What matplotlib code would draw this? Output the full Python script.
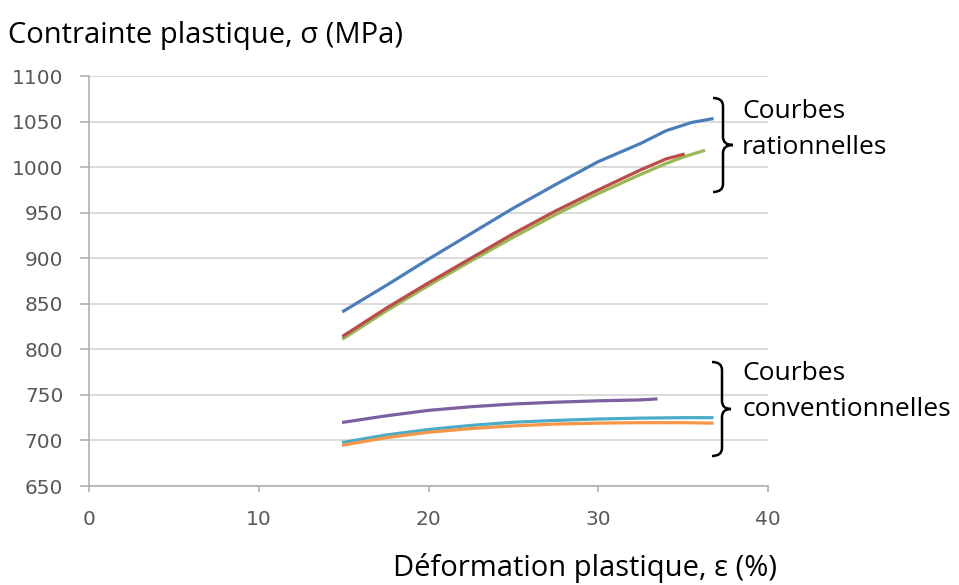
import matplotlib.pyplot as plt
from matplotlib.path import Path
from matplotlib.patches import PathPatch

# courbes rationnelles (contrainte vraie)
blue_x = [15, 17.5, 20, 22.5, 25, 27.5, 30, 32.5, 34, 35.5, 36.7]
blue_y = [842, 870, 899, 927, 955, 981, 1006, 1026, 1040, 1049, 1053]
green_x = [15, 17.5, 20, 22.5, 25, 27.5, 30, 32.5, 34, 35, 36.2]
green_y = [812, 842, 870, 897, 923, 948, 971, 992, 1004, 1011, 1018]
red_x = [15, 17.5, 20, 22.5, 25, 27.5, 30, 32.5, 34, 35]
red_y = [815, 845, 873, 900, 927, 952, 975, 997, 1009, 1014]

# courbes conventionnelles
purple_x = [15, 17.5, 20, 22.5, 25, 27.5, 30, 32.5, 33.4]
purple_y = [720, 727, 733, 737, 740, 742, 743.5, 744.5, 745.5]
teal_x = [15, 17.5, 20, 22.5, 25, 27.5, 30, 32.5, 35, 36.7]
teal_y = [698, 706, 712, 716.5, 720, 722, 723.5, 724.5, 725, 725]
orange_x = [15, 17.5, 20, 22.5, 25, 27.5, 30, 32.5, 35, 36.7]
orange_y = [695, 703, 709, 713, 716, 718, 719, 719.5, 719.5, 719]

xticks = [0, 10, 20, 30, 40]
yticks = list(range(650, 1101, 50))

W, H = 959, 585
fig = plt.figure(figsize=(W / 100, H / 100), dpi=100)
ax = fig.add_axes([89 / W, 1 - 486 / H, 679 / W, 410 / H])

lw = 2.3
ax.plot(blue_x, blue_y, color="#4a7ebb", lw=lw)
ax.plot(green_x, green_y, color="#98b954", lw=lw)
ax.plot(red_x, red_y, color="#be4b48", lw=lw)
ax.plot(purple_x, purple_y, color="#7d60a0", lw=lw)
ax.plot(teal_x, teal_y, color="#4bacc6", lw=lw)
ax.plot(orange_x, orange_y, color="#f79646", lw=lw)

ax.set_xlim(0, 40)
ax.set_ylim(650, 1100)
ax.set_xticks(xticks)
ax.set_yticks(yticks)
ax.grid(axis="y", color="#d4d4d4", lw=1.2)
ax.set_axisbelow(True)
for s in ["top", "right"]:
    ax.spines[s].set_visible(False)
for s in ["left", "bottom"]:
    ax.spines[s].set_color("#b0b0b0")
    ax.spines[s].set_linewidth(1.2)
ax.tick_params(axis="y", length=6.5, width=1.2, color="#b0b0b0",
               pad=12, labelsize=14.5, labelcolor="#595959")
ax.tick_params(axis="x", length=4.5, width=1.2, color="#b0b0b0",
               pad=13, labelsize=14.5, labelcolor="#595959")

txt = dict(family="Open Sans", color="black")
fig.text(8 / W, 1 - 36 / H, "Contrainte plastique, σ (MPa)", fontsize=21,
         ha="left", va="center", **txt)
fig.text(777 / W, 1 - 568 / H, "Déformation plastique, ε (%)", fontsize=21,
         ha="right", va="center", **txt)


def brace(x0, xs, xt, ytop, ybot, r=8):
    ym = (ytop + ybot) / 2
    pts = [(x0, ytop), (xs, ytop), (xs, ytop + r),
           (xs, ym - r), (xs, ym), (xt, ym),
           (xs, ym), (xs, ym + r),
           (xs, ybot - r), (xs, ybot), (x0, ybot)]
    codes = [Path.MOVETO, Path.CURVE3, Path.CURVE3,
             Path.LINETO, Path.CURVE3, Path.CURVE3,
             Path.CURVE3, Path.CURVE3,
             Path.LINETO, Path.CURVE3, Path.CURVE3]
    pts = [(x / W, 1 - y / H) for x, y in pts]
    fig.add_artist(PathPatch(Path(pts, codes), fill=False, lw=1.8,
                             color="black", transform=fig.transFigure))


brace(713, 723, 733, 98, 192)
brace(712, 722, 731, 362, 456)

fs = 19
fig.text(742 / W, 1 - 112 / H, "Courbes", fontsize=fs, ha="left", va="center", **txt)
fig.text(742 / W, 1 - 148 / H, "rationnelles", fontsize=fs, ha="left", va="center", **txt)
fig.text(742 / W, 1 - 373 / H, "Courbes", fontsize=fs, ha="left", va="center", **txt)
fig.text(742 / W, 1 - 410 / H, "conventionnelles", fontsize=fs, ha="left", va="center", **txt)

fig.savefig("out.png", dpi=100)
